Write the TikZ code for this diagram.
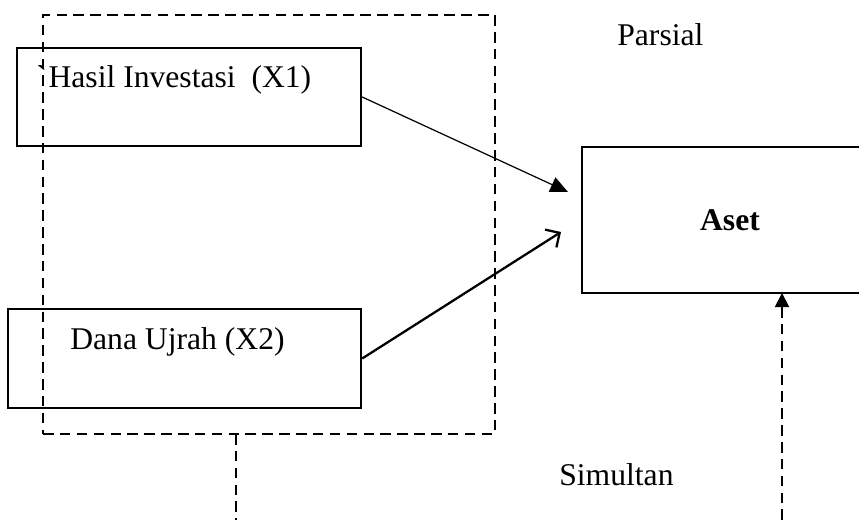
\documentclass[tikz,border=0pt]{standalone}
\usepackage{fontspec}
\setmainfont{Liberation Serif}
\usetikzlibrary{arrows.meta}
\tikzset{x=0.02cm, y=-0.02cm, % One unit is one pixel of the sketch, y runs down
every node/.style={ % Text of all nodes
font=\fontsize{18}{22}\selectfont},
varbox/.style={ % Boxes of the variables
draw,
rectangle,
line width=1.4pt,
inner sep=0pt},
grouping/.style={ % Dashed frame and dashed lines
draw,
line width=1.3pt,
dash pattern=on 6pt off 3.6pt},
thinarrow/.style={ % Partial arrow from X1
draw,
line width=0.7pt,
-{Triangle[length=10pt,width=9pt]}},
openarrow/.style={ % Partial arrow from X2
draw,
line width=1.3pt,
-{Straight Barb[length=6pt,width=12pt]}}}

\begin{document}
\begin{tikzpicture}
                \fill[white] (0,0) rectangle (859,520);
                \useasboundingbox (0,0) rectangle (859,520);

                \node[grouping, rectangle, minimum width=9.04cm, minimum height=8.38cm] (grp) at (269,224.5) {};
                \node[varbox, minimum width=6.88cm, minimum height=1.96cm] (x1) at (189,97) {};
                \node[varbox, minimum width=7.06cm, minimum height=1.98cm] (x2) at (184.5,358.5) {};
                \node[varbox, minimum width=5.92cm, minimum height=2.92cm] (aset) at (730,220) {\textbf{Aset}};

                \node[anchor=west, inner sep=0pt] (x1text) at (36,80) {\textasciigrave\kern1pt Hasil Investasi\ \ (X1)};
                \node[anchor=west, inner sep=0pt] (x2text) at (70,342) {Dana Ujrah (X2)};
                \node[anchor=west, inner sep=0pt] (parsial) at (617,35) {Parsial};
                \node[anchor=west, inner sep=0pt] (simultan) at (559,475) {Simultan};

                \coordinate (in1) at (568,192);
                \coordinate (in2) at (561,232);
                \coordinate (gbot) at (236,434);
                \coordinate (gend) at (236,520);
                \coordinate (sstart) at (782,520);
                \coordinate (sin) at (782,293);

                \draw (x1.east) edge[thinarrow] (in1)
                (x2.east) edge[openarrow] (in2)
                (gbot) edge[grouping] (gend)
                (sstart) edge[grouping, line width=1.1pt, -{Triangle[length=8pt,width=8pt]}] (sin);
            \end{tikzpicture}
\end{document}
